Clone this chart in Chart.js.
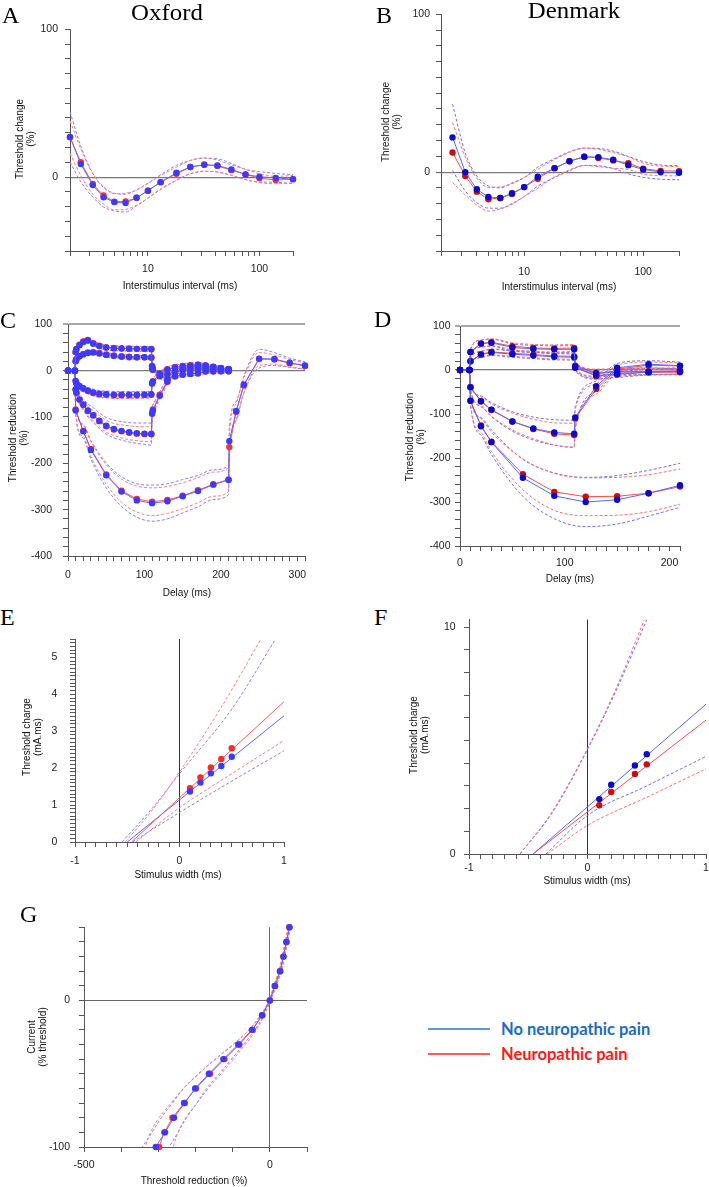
<!DOCTYPE html>
<html lang="en">
<head>
<meta charset="UTF-8">
<title>Threshold tracking - Oxford and Denmark</title>
<script src="https://cdn.jsdelivr.net/npm/chart.js@4"></script>
<style>
  body { margin: 0; background: #fff; }
  #page { position: relative; width: 709px; height: 1187px; overflow: hidden; }
  canvas { position: absolute; }
  .t { position: absolute; white-space: nowrap; color: #111; font-family: 'Liberation Sans', Arial, sans-serif; font-size: 10px; z-index: 2; }
  .xt { transform: translate(-50%, -50%); }
  .yt { transform: translate(-50%, -50%) rotate(-90deg); text-align: center; line-height: 11px; }
  .letter { font-family: 'Liberation Serif', 'Times New Roman', serif; font-size: 24px; line-height: 1; color: #000; }
  .site { font-family: 'Liberation Serif', 'Times New Roman', serif; font-size: 23px; line-height: 1; color: #000; transform: translateX(-50%) scaleX(1.08); }
  .leg { position: absolute; font-family: Lato, 'Open Sans', sans-serif; font-weight: bold; font-size: 16.5px; transform: translateY(-50%); white-space: nowrap; }
  .legline { position: absolute; }
</style>
</head>
<body>
<div id="page"></div>
<script>
// ---- A: recovery cycle, Oxford
const isiA = [2, 2.5, 3.2, 4, 5, 6.3, 7.9, 10, 13, 18, 24, 32, 42, 56, 75, 100, 140, 200];
const aBlue = [27.2, 8.8, -5.4, -13.7, -16.9, -17.6, -14, -9.2, -3.4, 2.9, 6.8, 8.3, 7.9, 5.2, 1.8, 0.2, -0.5, -1.4];
const aRed = [27, 10, -4.7, -12.4, -16.7, -16.4, -14, -9.2, -3.4, 2.2, 6.8, 8.5, 7.5, 4.7, 1.8, -0.7, -2, -1.4];
const aBlueSE = [17, 12, 8, 6.5, 6, 6, 5.5, 5, 5, 5, 4.5, 4.5, 4.5, 4, 3.5, 3.5, 3, 3];
const aRedSE = [11, 9, 7, 6, 5.5, 5.5, 5, 5, 4.5, 4.5, 4.5, 4.5, 4, 3.5, 3.5, 3, 2.5, 2.5];

// ---- B: recovery cycle, Denmark
const isiB = [2.5, 3.2, 4, 5, 6.3, 7.9, 10, 13, 18, 24, 32, 42, 56, 75, 100, 140, 200];
const bBlue = [22, 0, -10.9, -15.8, -16.4, -13.4, -9.5, -2.9, 2.5, 6.9, 9.7, 9.5, 7.8, 4.4, 1.7, 0, -0.4];
const bRed = [12.4, -2.5, -12.4, -17.2, -16.4, -13.9, -9.5, -4.2, 2.5, 6.9, 9.7, 9, 7.4, 5.7, 2.1, 0.8, 0.6];
const bBlueSE = [21, 12, 8.5, 7, 6.5, 6.5, 6, 6, 6, 6, 5.5, 5.5, 5.5, 5.5, 5, 4.5, 4.5];
const bRedSE = [19, 12, 8.5, 7.5, 7, 6.5, 6, 6, 5.5, 5.5, 5.5, 5.5, 5, 4, 3.5, 3, 3];

// ---- C: threshold electrotonus, Oxford
const teX = [0, 9, 10, 11, 15, 20, 26, 33, 41, 50, 60, 70, 80, 90, 100, 109, 110, 111, 120, 130, 140, 150, 160, 170, 180, 190, 200, 210];
const cTEd40Blue = [0, 0, 40, 46, 55, 62, 65, 58, 53, 50, 48, 48, 47, 47, 47, 46, 10, 4, -12, -19, -12, -8.5, -7, -5.6, -1.4, -1.4, -1.4, -1.4];
const cTEd40Red = [0, 0, 40, 47, 56, 63, 66, 59, 54, 50, 49, 48, 48, 47, 47, 47, 9, 3, -11, -18, -12, -9, -7, -6, -2, -2, -1.4, -1.4];
const cTEd20Blue = [0, 0, 20, 24, 31, 35, 38, 39, 37, 34, 32, 30, 29, 29, 29, 28, 5, 2, -7, -8.5, -1.4, 0.7, 2, 3.5, 3.5, 2, 2, 0];
const cTEd20Red = [0, 0, 21, 25, 31, 36, 39, 40, 38, 35, 32, 31, 30, 29, 29, 29, 5, 2, -6, -8, -1, 1, 2.5, 4, 3.5, 2.5, 2, 0.5];
const cTEh20Blue = [0, 0, -22, -27, -33, -38, -43, -47, -50, -51, -52, -52, -52, -52, -52, -51, -28, -24, -8, 2, 7, 9, 10.5, 12.6, 11, 8.4, 5.6, 3.5];
const cTEh20Red = [0, 0, -22, -28, -34, -39, -44, -48, -51, -52, -53, -53, -53, -53, -52, -52, -27, -23, -7, 3, 8, 10, 11.5, 13, 11, 8, 5, 3];
const cTEh40Blue = [0, 0, -40, -47, -62, -73, -86, -96, -108, -119, -126, -130, -133, -135, -136, -137, -93, -86, -54, -24, -5, 3, 8, 10, 9, 7, 5, 3];
const cTEh40Red = [0, 0, -41, -48, -63, -74, -87, -97, -109, -120, -127, -131, -134, -136, -137, -136, -91, -84, -52, -22, -4, 4, 8.5, 10, 9, 7, 5, 3];
const cSeTEd40 = [0, 0, 4, 4, 5, 5, 5, 5, 5, 5, 5, 5, 5, 5, 5, 5, 5, 4, 4, 4, 4, 4, 4, 4, 4, 3, 3, 3];
const cSeTEd20 = [0, 0, 3, 3, 4, 4, 4, 4, 4, 4, 4, 4, 4, 4, 4, 4, 4, 3, 3, 3, 3, 3, 3, 3, 3, 3, 3, 3];
const cSeTEh20 = [0, 0, 4, 5, 6, 6, 6, 7, 7, 7, 7, 7, 7, 7, 7, 7, 6, 6, 5, 5, 5, 5, 5, 5, 4, 4, 4, 3];
const cSeTEh40Blue = [0, 0, 6, 8, 10, 12, 14, 16, 17, 18, 19, 20, 21, 22, 23, 24, 16, 13, 8, 6, 5, 5, 5, 5, 4, 4, 4, 3];
const cSeTEh40Red = [0, 0, 5, 6, 8, 9, 10, 11, 12, 13, 13, 14, 15, 15, 16, 16, 11, 9, 6, 5, 5, 5, 5, 4, 4, 4, 3, 3];
const hX = [0, 9, 10, 20, 30, 50, 70, 90, 110, 130, 150, 170, 190, 210, 211, 220, 230, 250, 270, 290, 310];
const cTEh100Blue = [0, 0, -86, -131, -171, -226, -261, -280, -286, -282, -271, -260, -246, -236, -152, -87, -30, 26, 25, 17, 11];
const cTEh100Red = [0, 0, -84, -130, -169, -224, -259, -277, -283, -279, -270, -258, -245, -235, -165, -89, -32, 25, 24, 16, 10];
const cSeTEh100Blue = [0, 0, 10, 15, 20, 27, 32, 36, 39, 38, 36, 34, 32, 31, 28, 20, 18, 20, 14, 10, 8];
const cSeTEh100Red = [0, 0, 8, 12, 16, 21, 25, 28, 30, 29, 28, 27, 26, 26, 24, 18, 16, 14, 10, 8, 6];

// ---- D: threshold electrotonus, Denmark
const dX = [0, 9, 10, 20, 30, 50, 70, 90, 109, 110, 130, 150, 180, 210];
const dTEd40Blue = [0, 0, 41, 60, 62, 51, 48, 47, 47, 8, -8, -5, -4, -3];
const dTEd40Red = [0, 0, 41, 60, 63, 54, 50, 49, 50, 10, -6, -4, -3, -2];
const dTEd20Blue = [0, 0, 20, 35, 40, 36, 33, 30, 29, 5, -12, -10, -5, -3];
const dTEd20Red = [0, 0, 20, 36, 41, 38, 35, 32, 31, 6, -14, -8, -5, -5];
const dTEh40Blue = [0, 0, -39, -71, -90, -117, -133, -142, -145, -108, -37, 5, 13, 10];
const dTEh40Red = [0, 0, -39, -71, -91, -117, -134, -145, -148, -110, -43, 2, 11, 9];
const dSeTEd40 = [0, 0, 6, 8, 8, 8, 8, 8, 8, 8, 8, 7, 7, 7];
const dSeTEd20 = [0, 0, 5, 7, 7, 7, 7, 7, 7, 7, 7, 7, 6, 6];
const dSeTEh40Blue = [0, 0, 6, 12, 16, 22, 26, 29, 31, 25, 12, 10, 8, 8];
const dSeTEh40Red = [0, 0, 5, 10, 14, 19, 22, 25, 27, 22, 12, 9, 7, 7];
const dhX = [0, 9, 10, 20, 30, 60, 90, 120, 150, 180, 210];
const dTEh100Blue = [0, 0, -70, -128, -164, -245, -286, -300, -295, -280, -262];
const dTEh100Red = [0, 0, -70, -126, -163, -237, -277, -288, -287, -280, -265];
const dSeTEh100Blue = [0, 0, 8, 20, 28, 42, 52, 56, 55, 52, 50];
const dSeTEh100Red = [0, 0, 8, 16, 22, 35, 42, 43, 43, 42, 40];

// ---- E: charge-duration, Oxford
const widthE = [0.1, 0.2, 0.3, 0.4, 0.5];
const eBlue = [1.37, 1.61, 1.86, 2.06, 2.31];
const eRed = [1.46, 1.75, 2.02, 2.25, 2.54];
const eBlueFitX = [-0.5, 1], eBlueFitY = [0, 3.42];
const eRedFitX = [-0.46, 1], eRedFitY = [0, 3.8];
const eBlueUpX = [-0.55, -0.25, 0, 0.5, 0.92], eBlueUpY = [0, 0.95, 1.85, 3.6, 5.5];
const eRedUpX = [-0.52, -0.25, 0, 0.4, 0.78], eRedUpY = [0, 0.9, 1.9, 3.65, 5.5];
const eBlueLoX = [-0.45, 0, 0.5, 1], eBlueLoY = [0, 0.8, 1.65, 2.47];
const eRedLoX = [-0.42, 0, 0.5, 1], eRedLoY = [0, 0.93, 1.85, 2.75];

// ---- F: charge-duration, Denmark
const widthF = [0.1, 0.2, 0.4, 0.5];
const fBlue = [2.42, 3.05, 3.9, 4.4];
const fRed = [2.15, 2.73, 3.53, 3.95];
const fBlueFitX = [-0.46, 1], fBlueFitY = [0, 6.6];
const fRedFitX = [-0.46, 1], fRedFitY = [0, 5.9];
const fBlueUpX = [-0.57, -0.3, 0, 0.25, 0.5], fBlueUpY = [0, 1.8, 4.6, 7.3, 10.33];
const fRedUpX = [-0.57, -0.3, 0, 0.25, 0.48], fRedUpY = [0, 1.85, 4.65, 7.4, 10.33];
const fBlueLoX = [-0.35, 0, 0.5, 1], fBlueLoY = [0, 1.7, 3.0, 4.3];
const fRedLoX = [-0.34, 0, 0.5, 1], fRedLoY = [0, 1.26, 2.5, 3.75];

// ---- G: current-threshold, Oxford
const gCurrent = [50, 40, 30, 20, 10, 0, -10, -20, -30, -40, -50, -60, -70, -80, -90, -100];
const gBlue = [53, 45, 37, 28, 14, 0, -21, -48, -85, -125, -164, -201, -229, -258, -282, -307];
const gRed = [52, 44, 36, 27, 13, 0, -20, -46, -82, -122, -161, -199, -231, -262, -284, -298];
const gBlueSE = [3, 3, 3, 3, 3, 2, 4, 8, 14, 22, 28, 31, 33, 34, 35, 36];
const gRedSE = [3, 3, 3, 3, 3, 2, 5, 10, 16, 24, 30, 33, 35, 36, 37, 38];

const legendLabels = ['No neuropathic pain', 'Neuropathic pain'];

const OX = {
  blue: { pt: '#3b3bff', line: '#6464ff', band: '#7f7fff' },
  red: { pt: '#ff2a2a', line: '#ff5c5c', band: '#ff7c7c' }
};
const DK = {
  blue: { pt: '#0a0ac8', line: '#5668ff', band: '#6c6cff' },
  red: { pt: '#c80f0f', line: '#ff4d4d', band: '#ff6e6e' }
};

const SANS = "'Liberation Sans', Arial, sans-serif";
const LM = 60, RM = 16, TM = 12, BM = 34, TL = 5;
const page = document.getElementById('page');

function seq(min, max, step) {
  const n = Math.round((max - min) / step);
  const out = [];
  for (let i = 0; i <= n; i++) out.push(+(min + i * step).toFixed(6));
  return out;
}

function pts(xs, ys) { return xs.map((x, i) => ({ x, y: ys[i] })); }

function shifted(xs, ys, se, sign, horiz) {
  return xs.map((x, i) => horiz ? { x: x + sign * se[i], y: ys[i] } : { x, y: ys[i] + sign * se[i] });
}

function meanSet(xs, ys, c, order) {
  return {
    data: pts(xs, ys), showLine: true, borderColor: c.line, borderWidth: 1,
    pointRadius: 3.2, pointBackgroundColor: c.pt, pointBorderWidth: 0, pointHoverRadius: 0,
    order, clip: false
  };
}

function dashSet(data, c, smooth) {
  return {
    data, showLine: true, borderColor: c.band, borderWidth: 1, borderDash: [3, 2],
    pointRadius: 0, pointHoverRadius: 0, order: 5,
    cubicInterpolationMode: smooth ? 'default' : 'monotone', tension: smooth ? 0.4 : 0
  };
}

function bandSets(xs, ys, se, c, horiz) {
  return [dashSet(shifted(xs, ys, se, 1, horiz), c, horiz), dashSet(shifted(xs, ys, se, -1, horiz), c, horiz)];
}

function fitSet(xs, ys, c) {
  return { data: pts(xs, ys), showLine: true, borderColor: c.line, borderWidth: 1, pointRadius: 0, pointHoverRadius: 0, order: 4 };
}

function axis(o, pos) {
  const refs = o.refs || [];
  const ref = c => refs.find(r => c.tick && r.v === c.tick.value);
  return {
    type: o.type || 'linear',
    position: pos,
    min: o.min, max: o.max, bounds: 'data',
    afterBuildTicks: s => { s.ticks = o.ticks.map(v => ({ value: v })); },
    afterFit: s => { if (pos === 'left') s.width = LM; else s.height = BM; },
    border: { display: true, color: '#555', width: 1 },
    grid: {
      drawOnChartArea: true,
      color: c => { const r = ref(c); return r ? r.color : 'rgba(0,0,0,0)'; },
      lineWidth: c => { const r = ref(c); return r ? r.w : 1; },
      tickColor: '#555', tickLength: TL, tickWidth: 1
    },
    ticks: {
      autoSkip: false, maxRotation: 0, minRotation: 0, padding: o.pad, color: '#222',
      font: { family: SANS, size: 10.5 },
      callback: v => o.labels.includes(v) ? String(v) : ''
    }
  };
}

function panel(box, xo, yo, datasets) {
  const cv = document.createElement('canvas');
  const w = box.r - box.l + LM + RM, h = box.b - box.t + TM + BM;
  cv.width = w; cv.height = h;
  cv.style.left = (box.l - LM) + 'px';
  cv.style.top = (box.t - TM) + 'px';
  page.appendChild(cv);
  new Chart(cv, {
    type: 'scatter',
    data: { datasets },
    options: {
      responsive: false, animation: false, devicePixelRatio: 1,
      layout: { padding: { left: 0, right: RM, top: TM, bottom: 0 } },
      plugins: { legend: { display: false }, tooltip: { enabled: false } },
      scales: { x: axis(xo, 'bottom'), y: axis(yo, 'left') }
    }
  });
}

function text(cls, html, x, y) {
  const d = document.createElement('div');
  d.className = 't ' + cls;
  d.innerHTML = html;
  d.style.left = x + 'px';
  d.style.top = y + 'px';
  page.appendChild(d);
  return d;
}

const zero = { v: 0, color: '#7a7a7a', w: 1.2 };
const top100 = { v: 100, color: '#a8a8a8', w: 2 };
const vzero = { v: 0, color: '#333', w: 1 };
const logTicks = [2, 3, 4, 5, 6, 7, 8, 9, 10, 20, 30, 40, 50, 60, 70, 80, 90, 100, 200];

// A
panel({ l: 70, t: 28, r: 293, b: 251 },
  { type: 'logarithmic', min: 2, max: 200, ticks: logTicks, labels: [10, 100], pad: 6.7 },
  { min: -50, max: 100, ticks: seq(-50, 100, 10), labels: [0, 100], pad: 7, refs: [zero] },
  [
    ...bandSets(isiA, aRed, aRedSE, OX.red), ...bandSets(isiA, aBlue, aBlueSE, OX.blue),
    meanSet(isiA, aRed, OX.red, 2), meanSet(isiA, aBlue, OX.blue, 1)
  ]);

// B
panel({ l: 441, t: 14, r: 679, b: 251 },
  { type: 'logarithmic', min: 2, max: 200, ticks: logTicks, labels: [10, 100], pad: 10 },
  { min: -50, max: 100, ticks: seq(-50, 100, 10), labels: [0, 100], pad: 6, refs: [zero] },
  [
    ...bandSets(isiB, bRed, bRedSE, DK.red), ...bandSets(isiB, bBlue, bBlueSE, DK.blue),
    meanSet(isiB, bRed, DK.red, 2), meanSet(isiB, bBlue, DK.blue, 1)
  ]);

// C
const cCurves = [
  [teX, cTEd40Red, cTEd40Blue, cSeTEd40, cSeTEd40],
  [teX, cTEd20Red, cTEd20Blue, cSeTEd20, cSeTEd20],
  [teX, cTEh20Red, cTEh20Blue, cSeTEh20, cSeTEh20],
  [teX, cTEh40Red, cTEh40Blue, cSeTEh40Red, cSeTEh40Blue],
  [hX, cTEh100Red, cTEh100Blue, cSeTEh100Red, cSeTEh100Blue]
];
panel({ l: 68, t: 319, r: 305, b: 556 },
  { min: 0, max: 310, ticks: seq(0, 310, 10), labels: [0, 100, 200, 300], pad: 7.7 },
  { min: -400, max: 100, ticks: seq(-400, 100, 20), labels: [-400, -300, -200, -100, 0, 100], pad: 11, refs: [zero, top100] },
  cCurves.flatMap(([xs, r, b, sr, sb]) => [
    ...bandSets(xs, r, sr, OX.red), ...bandSets(xs, b, sb, OX.blue),
    meanSet(xs, r, OX.red, 2), meanSet(xs, b, OX.blue, 1)
  ]));

// D
const dCurves = [
  [dX, dTEd40Red, dTEd40Blue, dSeTEd40, dSeTEd40],
  [dX, dTEd20Red, dTEd20Blue, dSeTEd20, dSeTEd20],
  [dX, dTEh40Red, dTEh40Blue, dSeTEh40Red, dSeTEh40Blue],
  [dhX, dTEh100Red, dTEh100Blue, dSeTEh100Red, dSeTEh100Blue]
];
panel({ l: 460, t: 326, r: 680, b: 546 },
  { min: 0, max: 210, ticks: seq(0, 210, 10), labels: [0, 100, 200], pad: 6 },
  { min: -400, max: 100, ticks: seq(-400, 100, 20), labels: [-400, -300, -200, -100, 0, 100], pad: 4.5, refs: [zero, top100] },
  dCurves.flatMap(([xs, r, b, sr, sb]) => [
    ...bandSets(xs, r, sr, DK.red), ...bandSets(xs, b, sb, DK.blue),
    meanSet(xs, r, DK.red, 2), meanSet(xs, b, DK.blue, 1)
  ]));

// E
panel({ l: 75, t: 632, r: 284, b: 842 },
  { min: -1, max: 1, ticks: seq(-1, 1, 0.1), labels: [-1, 0, 1], pad: 7.7, refs: [vzero] },
  { min: 0, max: 5.5, ticks: seq(0, 5.5, 0.1), labels: [0, 1, 2, 3, 4, 5], pad: 12.7 },
  [
    dashSet(pts(eRedUpX, eRedUpY), OX.red), dashSet(pts(eRedLoX, eRedLoY), OX.red),
    dashSet(pts(eBlueUpX, eBlueUpY), OX.blue), dashSet(pts(eBlueLoX, eBlueLoY), OX.blue),
    fitSet(eRedFitX, eRedFitY, OX.red), fitSet(eBlueFitX, eBlueFitY, OX.blue),
    { ...meanSet(widthE, eRed, OX.red, 2), showLine: false },
    { ...meanSet(widthE, eBlue, OX.blue, 1), showLine: false }
  ]);

// F
panel({ l: 469, t: 617, r: 706, b: 854 },
  { min: -1, max: 1, ticks: seq(-1, 1, 0.1), labels: [-1, 0, 1], pad: 2.7, refs: [vzero] },
  { min: 0, max: 10.33, ticks: seq(0, 10, 1), labels: [0, 10], pad: 8.3 },
  [
    dashSet(pts(fRedUpX, fRedUpY), DK.red), dashSet(pts(fRedLoX, fRedLoY), DK.red),
    dashSet(pts(fBlueUpX, fBlueUpY), DK.blue), dashSet(pts(fBlueLoX, fBlueLoY), DK.blue),
    fitSet(fRedFitX, fRedFitY, DK.red), fitSet(fBlueFitX, fBlueFitY, DK.blue),
    { ...meanSet(widthF, fRed, DK.red, 2), showLine: false },
    { ...meanSet(widthF, fBlue, DK.blue, 1), showLine: false }
  ]);

// G (threshold reduction on x, current on y)
panel({ l: 84, t: 924, r: 307, b: 1147 },
  { min: -500, max: 100, ticks: seq(-500, 100, 100), labels: [-500, 0], pad: 6.7, refs: [{ v: 0, color: '#666', w: 1 }] },
  { min: -100, max: 50, ticks: seq(-100, 50, 10), labels: [-100, 0], pad: 9, refs: [{ v: 0, color: '#666', w: 1 }] },
  [
    ...bandSets(gRed, gCurrent, gRedSE, OX.red, true), ...bandSets(gBlue, gCurrent, gBlueSE, OX.blue, true),
    meanSet(gRed, gCurrent, OX.red, 2), meanSet(gBlue, gCurrent, OX.blue, 1)
  ].map(d => d.data ? { ...d, data: d.data } : d));

// texts
const BL = 20.1; // baseline offset for 24px serif letters
[['A', 2, 22.7], ['B', 376, 22.7], ['C', 0, 328.3], ['D', 374, 326.7],
 ['E', 0, 625], ['F', 374, 625], ['G', 20, 921.7]].forEach(([s, x, b]) => text('letter', s, x, b - BL));
text('site', 'Oxford', 167, 20.7 - 19.3);
text('site', 'Denmark', 574, 18.3 - 19.3);

text('xt', 'Interstimulus interval (ms)', 180, 285);
text('xt', 'Interstimulus interval (ms)', 559, 286);
text('xt', 'Delay (ms)', 187, 592);
text('xt', 'Delay (ms)', 570, 578);
text('xt', 'Stimulus width (ms)', 178, 874);
text('xt', 'Stimulus width (ms)', 587, 880);
text('xt', 'Threshold reduction (%)', 194, 1180);

text('yt', 'Threshold change<br>(%)', 25, 139);
text('yt', 'Threshold change<br>(%)', 391, 122);
text('yt', 'Threshold reduction<br>(%)', 18, 438);
text('yt', 'Threshold reduction<br>(%)', 415, 437);
text('yt', 'Threshold charge<br>(mA.ms)', 32, 737);
text('yt', 'Threshold charge<br>(mA.ms)', 419, 735);
text('yt', 'Current<br>(% threshold)', 37, 1037);

// legend
[[legendLabels[0], 1029, '#5b9bd5', '#1a6cc4', 2], [legendLabels[1], 1054, '#ff5a5a', '#ff1a1a', 1.5]].forEach(([s, y, lc, tc, lw]) => {
  const l = document.createElement('div');
  l.className = 'legline';
  l.style.cssText = `left:428px;top:${y - lw / 2}px;width:62px;height:${lw}px;background:${lc}`;
  page.appendChild(l);
  const d = document.createElement('div');
  d.className = 'leg';
  d.textContent = s;
  d.style.cssText = `left:501px;top:${y}px;color:${tc}`;
  page.appendChild(d);
});
</script>
</body>
</html>
